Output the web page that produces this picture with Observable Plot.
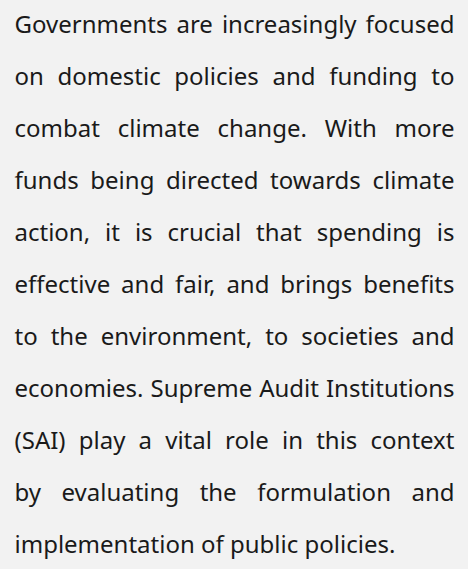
<!DOCTYPE html>
<html>
<head>
<meta charset="utf-8">
<script src="https://cdn.jsdelivr.net/npm/d3@7"></script>
<script src="https://cdn.jsdelivr.net/npm/@observablehq/plot@0.6"></script>
<style>
  html, body { margin: 0; padding: 0; background: #f2f2f2; }
  #chart svg { display: block; }
</style>
</head>
<body>
<div id="chart"></div>
<script>
const lines = [
  "Governments are increasingly focused",
  "on domestic policies and funding to",
  "combat climate change. With more",
  "funds being directed towards climate",
  "action, it is crucial that spending is",
  "effective and fair, and brings benefits",
  "to the environment, to societies and",
  "economies. Supreme Audit Institutions",
  "(SAI) play a vital role in this context",
  "by evaluating the formulation and",
  "implementation of public policies."
];
const justified = lines.map((_, i) => i < lines.length - 1);

const data = lines.map((text, i) => ({line: i, text, justify: justified[i]}));

const W = 468, H = 569, LEFT = 14, RIGHT = 14;
const plot = Plot.plot({
  width: W,
  height: H,
  marginTop: 20,
  marginBottom: 20,
  marginLeft: LEFT,
  marginRight: RIGHT,
  style: {background: "#f2f2f2", fontFamily: "'Noto Sans', sans-serif"},
  x: {axis: null},
  y: {type: "point", domain: data.map(d => d.line), axis: null, padding: 0},
  marks: [
    Plot.text(data, {
      y: "line",
      text: "text",
      frameAnchor: "left",
      textAnchor: "start",
      lineAnchor: "middle",
      fontSize: 24,
      fill: "#1a1a1a"
    })
  ]
});
document.getElementById("chart").appendChild(plot);

// justify all lines but the last to the full text width
const target = W - LEFT - RIGHT;
const texts = plot.querySelectorAll("g[aria-label='text'] text");
texts.forEach((t, i) => {
  if (!data[i].justify) return;
  const spaces = (data[i].text.match(/ /g) || []).length;
  if (!spaces) return;
  const len = t.getComputedTextLength();
  t.setAttribute("word-spacing", ((target - len) / spaces).toFixed(2));
});
</script>
</body>
</html>
